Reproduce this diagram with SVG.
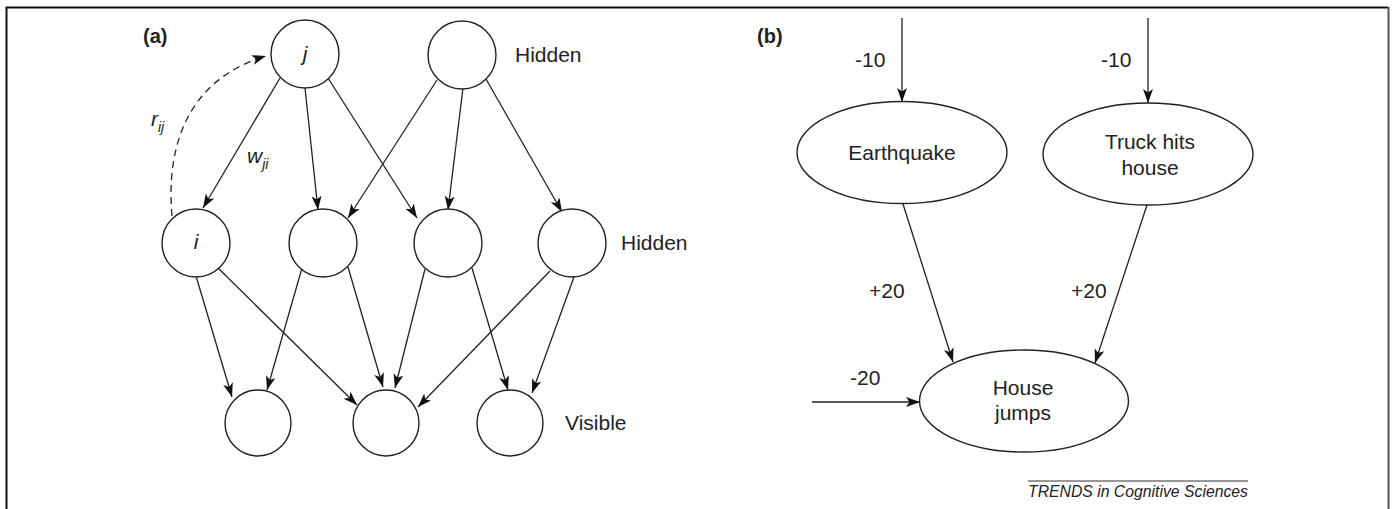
<svg xmlns="http://www.w3.org/2000/svg" width="1394" height="509" viewBox="0 0 1394 509">
<defs>
<marker id="arr" markerWidth="15" markerHeight="11" refX="14" refY="5" orient="auto" markerUnits="userSpaceOnUse">
<path d="M0,0 L14,5 L0,10 L3.5,5 z" fill="#111"/>
</marker>
<style>
.n{fill:#fff;stroke:#222;stroke-width:1.4}
.e{fill:none;stroke:#222;stroke-width:1.3;marker-end:url(#arr)}
.d{fill:none;stroke:#222;stroke-width:1.3;stroke-dasharray:7,5;marker-end:url(#arr)}
.t{font-family:"Liberation Sans",Arial,sans-serif;font-size:21px;fill:#222}
.it{font-style:italic}
.b{font-weight:bold;font-size:20px}
.s{font-size:14px}
</style>
</defs>
<rect width="1394" height="509" fill="#fff"/>
<g id="frame" fill="none">
<path d="M6.5,509 V7.5 H1388.5" stroke="#111" stroke-width="2"/>
<line x1="1388.5" y1="7" x2="1388.5" y2="509" stroke="#555" stroke-width="2"/>
</g>
<g id="connectors">
<path class="d" d="M172,216 C166,150 185,80 266,56"/>
<line class="e" x1="280" y1="78" x2="203" y2="208"/>
<line class="e" x1="305" y1="88" x2="318" y2="210"/>
<line class="e" x1="328" y1="78" x2="417" y2="218"/>
<line class="e" x1="437" y1="80" x2="348" y2="218"/>
<line class="e" x1="463" y1="88" x2="448" y2="210"/>
<line class="e" x1="486" y1="79" x2="562" y2="212"/>
<line class="e" x1="196" y1="276" x2="232" y2="397"/>
<line class="e" x1="218" y1="268" x2="357" y2="405"/>
<line class="e" x1="302" y1="268" x2="267" y2="390"/>
<line class="e" x1="348" y1="267" x2="383" y2="387"/>
<line class="e" x1="425" y1="269" x2="395" y2="388"/>
<line class="e" x1="472" y1="268" x2="508" y2="390"/>
<line class="e" x1="550" y1="271" x2="418" y2="407"/>
<line class="e" x1="574" y1="277" x2="532" y2="393"/>
<line class="e" x1="902" y1="18" x2="902" y2="102"/>
<line class="e" x1="1148" y1="18" x2="1148" y2="103"/>
<line class="e" x1="903" y1="204" x2="953" y2="362"/>
<line class="e" x1="1147" y1="205" x2="1095" y2="363"/>
<line class="e" x1="812" y1="402" x2="920" y2="402"/>
</g>
<g id="labels-a">
<text class="t b" x="143" y="43">(a)</text>
<text class="t it" x="151" y="126">r<tspan class="s" dy="6">ij</tspan></text>
<text class="t it" x="247" y="163">w<tspan class="s" dy="6">ji</tspan></text>
<text class="t" x="515" y="62">Hidden</text>
<text class="t" x="621" y="250">Hidden</text>
<text class="t" x="565" y="430">Visible</text>
</g>
<g id="node-j"><circle class="n" cx="305" cy="54" r="34"/><text class="t it" x="305" y="61" text-anchor="middle">j</text></g>
<g id="node-h2"><circle class="n" cx="462" cy="55" r="34"/></g>
<g id="node-i"><circle class="n" cx="196" cy="243" r="34"/><text class="t it" x="196" y="249" text-anchor="middle">i</text></g>
<g id="node-m2"><circle class="n" cx="323" cy="243" r="34"/></g>
<g id="node-m3"><circle class="n" cx="448" cy="243" r="34"/></g>
<g id="node-m4"><circle class="n" cx="572" cy="243" r="34"/></g>
<g id="node-v1"><circle class="n" cx="258" cy="423" r="33"/></g>
<g id="node-v2"><circle class="n" cx="386" cy="423" r="33"/></g>
<g id="node-v3"><circle class="n" cx="510" cy="423" r="33"/></g>
<g id="labels-b">
<text class="t b" x="757" y="43">(b)</text>
<text class="t" x="855" y="67">-10</text>
<text class="t" x="1101" y="67">-10</text>
<text class="t" x="869" y="298">+20</text>
<text class="t" x="1071" y="298">+20</text>
<text class="t" x="850" y="385">-20</text>
</g>
<g id="node-earthquake"><ellipse class="n" cx="902" cy="152.5" rx="105" ry="51"/><text class="t" x="902" y="160" text-anchor="middle">Earthquake</text></g>
<g id="node-truck"><ellipse class="n" cx="1148" cy="154" rx="105" ry="51"/><text class="t" x="1150" y="149" text-anchor="middle">Truck hits</text><text class="t" x="1150" y="175" text-anchor="middle">house</text></g>
<g id="node-house"><ellipse class="n" cx="1024" cy="401" rx="104.5" ry="51"/><text class="t" x="1023" y="395" text-anchor="middle">House</text><text class="t" x="1023" y="420" text-anchor="middle">jumps</text></g>
<g id="footer">
<line x1="1028" y1="481" x2="1248" y2="481" stroke="#333" stroke-width="1"/>
<text x="1028" y="497" font-family="'Liberation Sans',Arial,sans-serif" font-size="16" font-style="italic" fill="#222" textLength="220" lengthAdjust="spacingAndGlyphs">TRENDS in Cognitive Sciences</text>
</g>
</svg>
